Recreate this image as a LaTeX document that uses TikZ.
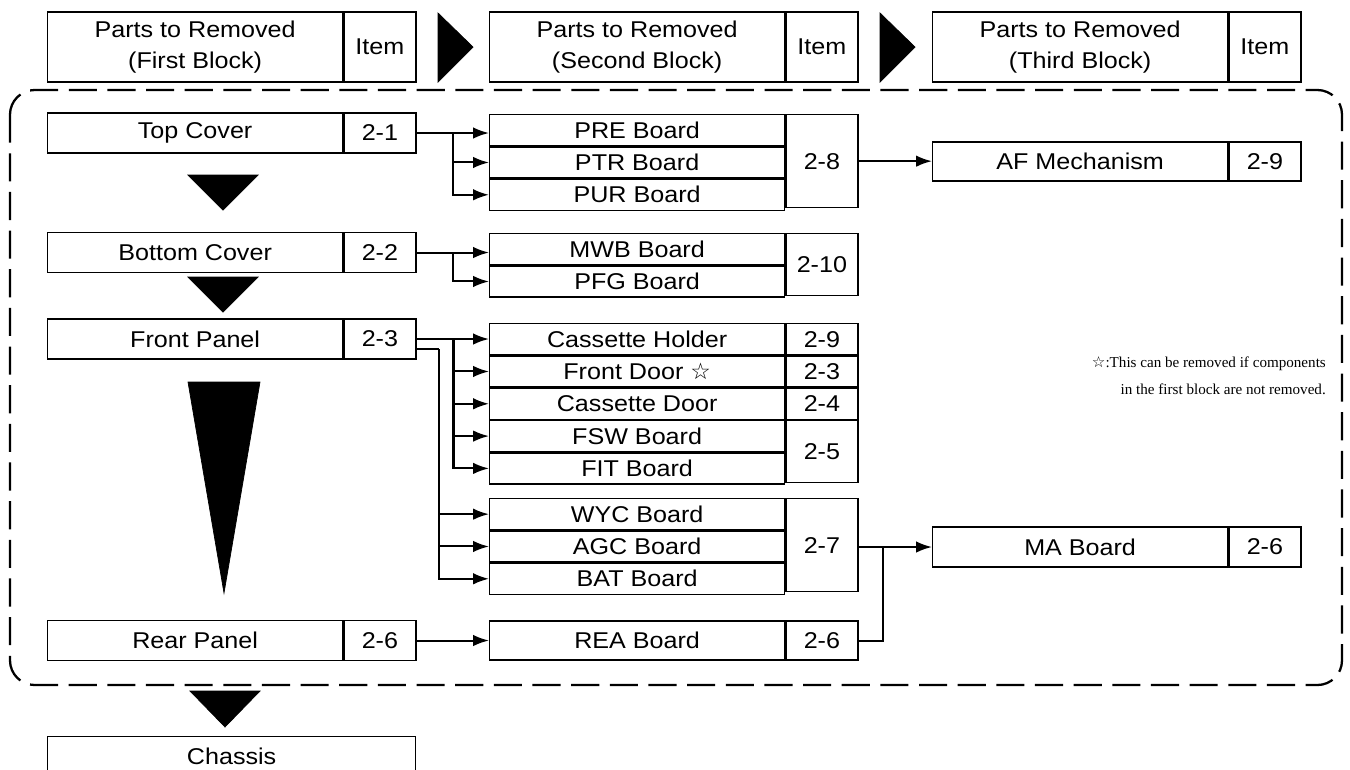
\documentclass[tikz,border=0pt]{standalone}
\usepackage{fontspec}
\setmainfont{Liberation Sans}[FakeStretch=1.1]
\newfontfamily\notefont{Liberation Serif}
\newfontfamily\starfont{DejaVu Sans}
\usetikzlibrary{arrows.meta,calc}

\tikzset{
  cell/.style={draw, line width=0.75pt, inner sep=0pt, minimum height=0.62cm,
    font=\fontsize{13}{18}\selectfont},
  namecell/.style={cell, minimum width=5.9cm},
  itemcell/.style={cell, minimum width=1.44cm},
  link/.style={line width=1.15pt, -{Latex[length=9pt,width=6.5pt]}},
  wire/.style={line width=1.15pt},
  pointer/.style={fill=black}
}

\begin{document}
\begin{tikzpicture}[x=0.02cm, y=-0.02cm]
        \useasboundingbox (0,0) rectangle (1350,769);

        % Headers
        \node[namecell, minimum height=1.4cm, align=center, anchor=west] (h1) at (47,47) {Parts to Removed\\(First Block)};
        \node[itemcell, minimum height=1.4cm, anchor=west] (h1I) at (h1.east) {Item};
        \node[namecell, minimum height=1.4cm, align=center, anchor=west] (h2) at (489,47) {Parts to Removed\\(Second Block)};
        \node[itemcell, minimum height=1.4cm, anchor=west] (h2I) at (h2.east) {Item};
        \node[namecell, minimum height=1.4cm, align=center, anchor=west] (h3) at (932,47) {Parts to Removed\\(Third Block)};
        \node[itemcell, minimum height=1.4cm, anchor=west] (h3I) at (h3.east) {Item};
        \filldraw[pointer] (438,13) -- (438,82) -- (473,47) -- cycle;
        \filldraw[pointer] (880,13) -- (880,82) -- (915,47) -- cycle;

        % Dashed frame round the three blocks
        \draw[line width=1.3pt, dash pattern=on 16pt off 6pt, rounded corners=14pt]
            (10,90) rectangle (1342,685);

        % First block
        \node[namecell, minimum height=0.8cm, anchor=west] (top) at (47,133) {Top Cover};
        \node[itemcell, minimum height=0.8cm, anchor=west] (topI) at (top.east) {2-1};
        \node[namecell, minimum height=0.8cm, anchor=west] (bot) at (47,252.5) {Bottom Cover};
        \node[itemcell, minimum height=0.8cm, anchor=west] (botI) at (bot.east) {2-2};
        \node[namecell, minimum height=0.8cm, anchor=west] (front) at (47,339) {Front Panel};
        \node[itemcell, minimum height=0.8cm, anchor=west] (frontI) at (front.east) {2-3};
        \node[namecell, minimum height=0.8cm, anchor=west] (rear) at (47,640.5) {Rear Panel};
        \node[itemcell, minimum height=0.8cm, anchor=west] (rearI) at (rear.east) {2-6};
        \node[cell, minimum width=7.36cm, minimum height=0.8cm, anchor=north west] (chassis) at (47,736) {Chassis};

        % Order of removal
        \filldraw[pointer] (188,175) -- (258,175) -- (223,210) -- cycle;
        \filldraw[pointer] (188,277) -- (258,277) -- (223,312) -- cycle;
        \filldraw[pointer] (188,382) -- (260,382) -- (224,593) -- cycle;
        \filldraw[pointer] (190,691) -- (260,691) -- (225,727) -- cycle;

        % Second block
        \node[namecell, anchor=north west] (pre) at (489,114) {PRE Board};
        \node[namecell, anchor=north] (ptr) at (pre.south) {PTR Board};
        \node[namecell, anchor=north] (pur) at (ptr.south) {PUR Board};
        \node[itemcell, minimum height=1.86cm, anchor=north west] (preI) at (pre.north east) {2-8};

        \node[namecell, anchor=north west] (mwb) at (489,233) {MWB Board};
        \node[namecell, anchor=north] (pfg) at (mwb.south) {PFG Board};
        \node[itemcell, minimum height=1.24cm, anchor=north west] (mwbI) at (mwb.north east) {2-10};

        \node[namecell, anchor=north west] (holder) at (489,323) {Cassette Holder};
        \node[namecell, anchor=north] (door) at (holder.south) {Front Door {\starfont ☆}};
        \node[namecell, anchor=north] (cdoor) at (door.south) {Cassette Door};
        \node[namecell, anchor=north] (fsw) at (cdoor.south) {FSW Board};
        \node[namecell, anchor=north] (fit) at (fsw.south) {FIT Board};
        \node[itemcell, anchor=west] (holderI) at (holder.east) {2-9};
        \node[itemcell, anchor=west] (doorI) at (door.east) {2-3};
        \node[itemcell, anchor=west] (cdoorI) at (cdoor.east) {2-4};
        \node[itemcell, minimum height=1.24cm, anchor=north west] (fswI) at (fsw.north east) {2-5};

        \node[namecell, anchor=north west] (wyc) at (489,498) {WYC Board};
        \node[namecell, anchor=north] (agc) at (wyc.south) {AGC Board};
        \node[namecell, anchor=north] (bat) at (agc.south) {BAT Board};
        \node[itemcell, minimum height=1.86cm, anchor=north west] (wycI) at (wyc.north east) {2-7};

        \node[namecell, minimum height=0.78cm, anchor=west] (rea) at (489,640.5) {REA Board};
        \node[itemcell, minimum height=0.78cm, anchor=west] (reaI) at (rea.east) {2-6};

        % Third block
        \node[namecell, minimum height=0.78cm, anchor=west] (af) at (932,161.5) {AF Mechanism};
        \node[itemcell, minimum height=0.78cm, anchor=west] (afI) at (af.east) {2-9};
        \node[namecell, minimum height=0.8cm, anchor=west] (ma) at (932,547) {MA Board};
        \node[itemcell, minimum height=0.8cm, anchor=west] (maI) at (ma.east) {2-6};

        % Note for the star
        \node[anchor=east, align=right, font=\notefont\fontsize{8.6}{15.5}\selectfont] (note) at (1332,376)
            {{\starfont ☆}:This can be removed if components\\in the first block are not removed.};

        % Connectors from the first block
        \draw[link] (topI.east) -- (topI.east -| pre.west);
        \coordinate (b1) at ($(topI.east)!0.5!(topI.east -| pre.west)$);
        \draw[link] (b1) |- (ptr.west);
        \draw[link] (b1) |- (pur.west);

        \draw[link] (botI.east) -- (botI.east -| mwb.west);
        \coordinate (b2) at ($(botI.east)!0.5!(botI.east -| mwb.west)$);
        \draw[link] (b2) |- (pfg.west);

        \draw[link] (frontI.east) -- (frontI.east -| holder.west);
        \coordinate (b3) at ($(frontI.east)!0.51!(frontI.east -| holder.west)$);
        \draw[link] (b3) |- (door.west);
        \draw[link] (b3) |- (cdoor.west);
        \draw[link] (b3) |- (fsw.west);
        \draw[link] (b3) |- (fit.west);

        \coordinate (f2) at ([yshift=-0.2cm]frontI.east);
        \coordinate (b4) at ([xshift=0.44cm]f2);
        \draw[wire] (f2) -- (b4);
        \draw[link] (b4) |- (wyc.west);
        \draw[link] (b4) |- (agc.west);
        \draw[link] (b4) |- (bat.west);

        \draw[link] (rearI.east) -- (rea.west);

        % Connectors to the third block
        \draw[link] (preI.east) -- (preI.east -| af.west);
        \draw[link] (ma.west -| wycI.east) -- (ma.west);
        \coordinate (b5) at ($(ma.west -| wycI.east)!0.33!(ma.west)$);
        \draw[wire] (reaI.east) -| (b5);
    \end{tikzpicture}
\end{document}
